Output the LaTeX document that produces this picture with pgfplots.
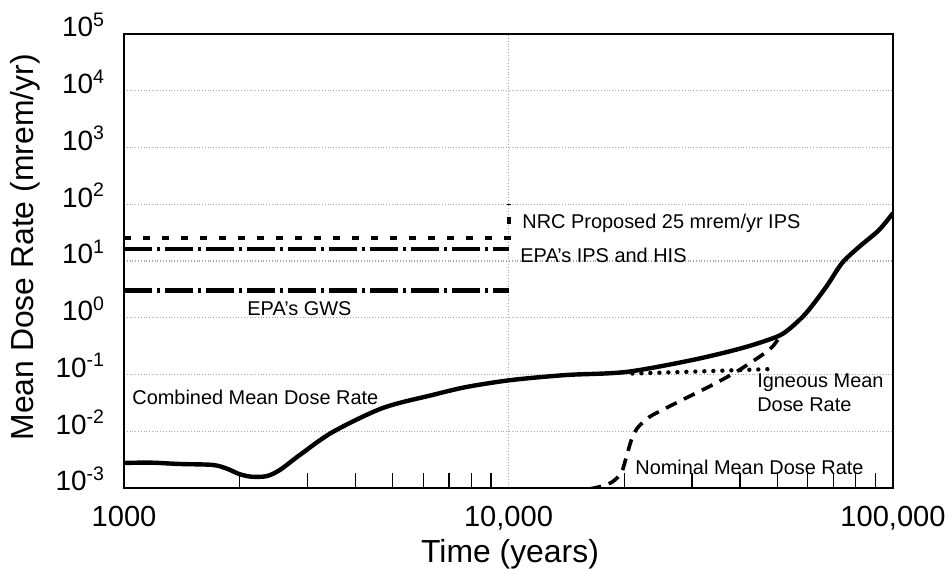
\documentclass[border=0pt]{standalone}
\usepackage{pgfplots}
\pgfplotsset{compat=1.18}
\usepackage{fontspec}
\setmainfont{Liberation Sans}
\begin{document}
\begin{tikzpicture}
\path[use as bounding box] (-62bp,-40.5bp) rectangle (413.5bp,244bp);
\begin{axis}[
  at={(0,0)}, anchor=south west,
  scale only axis, width=384.5bp, height=227bp,
  xmode=log, ymode=log,
  xmin=1000, xmax=100000, ymin=1e-3, ymax=1e5,
  xtick={1000,10000,100000},
  xticklabels={1000,{10,000},{100,000}},
  minor xtick={2000,3000,4000,5000,6000,7000,8000,9000,20000,30000,40000,50000,60000,70000,80000,90000},
  ytick={1e-3,1e-2,1e-1,1,10,100,1000,10000,100000},
  yticklabels={10\textsuperscript{-3},10\textsuperscript{-2},10\textsuperscript{-1},10\textsuperscript{0},10\textsuperscript{1},10\textsuperscript{2},10\textsuperscript{3},10\textsuperscript{4},10\textsuperscript{5}},
  yminorticks=false,
  xtick pos=left, ytick pos=left,
  tick align=inside,
  major tick length=0pt, minor tick length=7.5bp,
  minor tick style={black, line width=0.7bp},
  xmajorgrids, ymajorgrids,
  major grid style={densely dotted, gray!70, line width=0.6bp},
  axis line style={line width=1.2bp},
  tick label style={font=\fontsize{14}{16}\selectfont},
  xticklabel style={yshift=-5.5bp, font=\fontsize{14.6}{16}\selectfont},
  yticklabel style={xshift=-6bp, yshift=4.5bp},
  label style={font=\fontsize{16}{18}\selectfont},
  xlabel={Time (years)},
  xlabel style={at={(axis description cs:0.502,-0.145)}, anchor=center},
  ylabel={Mean Dose Rate (mrem/yr)},
  ylabel style={at={(axis description cs:-0.1287,0.53)}, anchor=center},
  every node/.append style={font=\fontsize{10.3}{10}\selectfont},
]
% NRC proposed 25 mrem/yr IPS
\addplot[black, line width=2bp, dash pattern=on 3.5bp off 6bp] coordinates {(1000,25) (10000,25) (10000,100)};
% EPA IPS and HIS
\addplot[black, line width=2bp, dash pattern=on 14bp off 2.5bp on 1.5bp off 2.5bp] coordinates {(1000,16) (10000,16)};
% EPA GWS
\addplot[black, line width=2.4bp, dash pattern=on 14bp off 2.5bp on 1.5bp off 2.5bp] coordinates {(1000,3) (10000,3)};
% Combined mean dose rate
\addplot[black, line width=2.2bp, smooth, tension=0.5] coordinates {
(1000,0.00276)(1168,0.0028)(1397,0.00265)(1700,0.00255)(1850,0.0022)(2000,0.00175)(2150,0.00158)(2350,0.00162)(2541,0.00207)(2864,0.00381)(3490,0.0097)(4710,0.0257)(6348,0.0436)(7780,0.0603)(10190,0.080)(14150,0.098)(20250,0.111)(30060,0.180)(40550,0.293)(49660,0.458)(53500,0.62)(59430,1.21)(66980,3.48)(73710,9.2)(81600,17.7)(91960,35.2)(100000,70)};
% Nominal mean dose rate
\addplot[black, line width=1.8bp, dash pattern=on 6bp off 4bp, smooth, tension=0.4] coordinates {
(16230,0.00096)(17540,0.00108)(18620,0.00128)(19660,0.00184)(20250,0.00352)(20870,0.00701)(21630,0.0114)(23230,0.0178)(25710,0.0257)(28970,0.0386)(33870,0.0653)(39080,0.111)(44850,0.203)(48500,0.305)(51170,0.497)};
% Igneous mean dose rate
\addplot[black, line width=2.2bp, line cap=round, dash pattern=on 0bp off 4.5bp] coordinates {(21000,0.104)(31000,0.113)(48500,0.125)};
\node[anchor=west, inner sep=0pt] at (rel axis cs:0.5176,0.5837) {NRC Proposed 25 mrem/yr IPS};
\node[anchor=west, inner sep=0pt] at (rel axis cs:0.515,0.513) {EPA's IPS and HIS};
\node[anchor=west, inner sep=0pt] at (rel axis cs:0.16,0.394) {EPA's GWS};
\node[anchor=west, inner sep=0pt] at (rel axis cs:0.0104,0.2004) {Combined Mean Dose Rate};
\node[anchor=west, inner sep=0pt, align=left] at (rel axis cs:0.823,0.209) {Igneous Mean\\Dose Rate};
\node[anchor=west, inner sep=0pt] at (rel axis cs:0.6645,0.0463) {Nominal Mean Dose Rate};
\draw[line width=1.2bp] (rel axis cs:0,1) -- ([xshift=-6bp]rel axis cs:0,1);
\draw[line width=1.2bp] (rel axis cs:0,0) -- ([xshift=-6bp]rel axis cs:0,0);
\end{axis}
\end{tikzpicture}
\end{document}
